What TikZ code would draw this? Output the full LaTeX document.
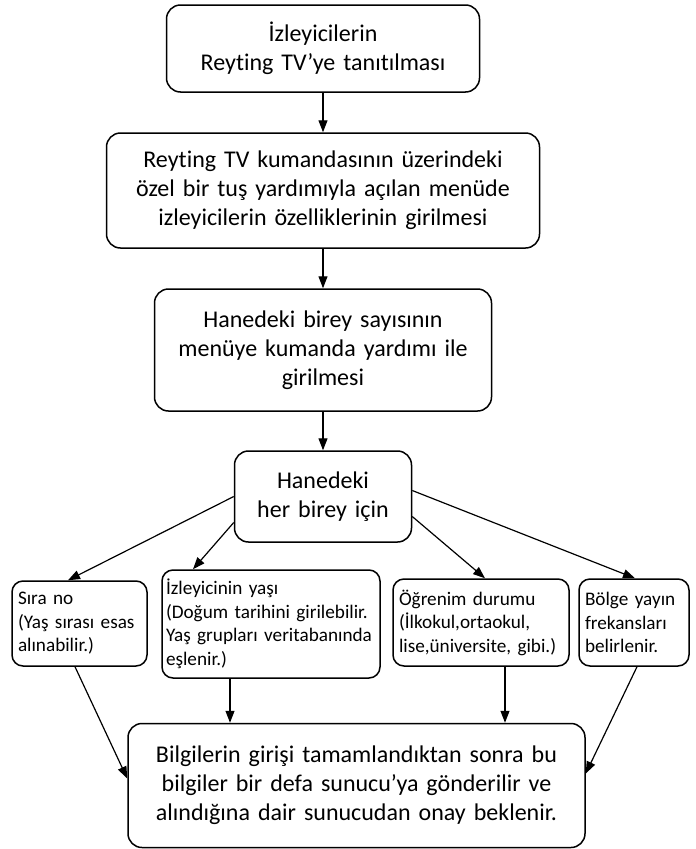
\documentclass[tikz,border=0pt]{standalone}
\usepackage{fontspec}
\setmainfont{Carlito}[RawFeature={-liga}]
\usetikzlibrary{arrows.meta}
\tikzset{
  bigbox/.style={draw, line width=1.5pt, rounded corners=14pt, inner xsep=0pt, inner ysep=0pt,
    align=center, font=\fontsize{24}{29}\selectfont},
  smallbox/.style={draw, line width=1.5pt, rounded corners=11pt, inner xsep=0pt, inner ysep=0pt,
    align=left, font=\fontsize{19.2}{23.5}\selectfont},
  arr/.style={line width=1.2pt, -{Triangle[length=12pt,width=9pt]}}
}
\begin{document}
\begin{tikzpicture}[x=1pt,y=-1pt]
\useasboundingbox (0,0) rectangle (696,849);
\node[bigbox, minimum width=313pt, minimum height=87pt, text width=300pt] (b1) at (323,48.5)
  {İzleyicilerin\\Reyting TV’ye tanıtılması};
\node[bigbox, minimum width=433pt, minimum height=115pt, text width=420pt] (b2) at (323,190.5)
  {Reyting TV kumandasının üzerindeki\\özel bir tuş yardımıyla açılan menüde\\izleyicilerin özelliklerinin girilmesi};
\node[bigbox, minimum width=337pt, minimum height=122pt, text width=320pt] (b3) at (323,350)
  {Hanedeki birey sayısının\\menüye kumanda yardımı ile\\girilmesi};
\node[bigbox, minimum width=177pt, minimum height=91pt, text width=165pt] (b4) at (323,496.5)
  {Hanedeki\\her birey için};
\node[smallbox, minimum width=135pt, minimum height=85pt, text width=123pt] (s1) at (79.5,623.5)
  {Sıra no\\\makebox[\linewidth][s]{(Yaş sırası esas}\\alınabilir.)};
\node[smallbox, minimum width=218pt, minimum height=108pt, text width=210pt] (s2) at (271,624)
  {İzleyicinin yaşı\\\makebox[\linewidth][s]{(Doğum tarihini girilebilir.}\\\makebox[\linewidth][s]{Yaş grupları veritabanında}\\eşlenir.)};
\node[smallbox, minimum width=176pt, minimum height=87pt, text width=164pt] (s3) at (481,622.5)
  {Öğrenim durumu\\(İlkokul,ortaokul,\\lise,üniversite, gibi.)};
\node[smallbox, minimum width=110pt, minimum height=87pt, text width=98pt] (s4) at (634,622.5)
  {Bölge yayın\\frekansları\\belirlenir.};
\node[bigbox, minimum width=457pt, minimum height=124pt, text width=440pt] (b5) at (356.5,785.5)
  {Bilgilerin girişi tamamlandıktan sonra bu\\bilgiler bir defa sunucu’ya gönderilir ve\\alındığına dair sunucudan onay beklenir.};
\draw[arr] (b1) -- (b2);
\draw[arr] (b2) -- (b3);
\draw[arr] (b3) -- (b4);
\draw[arr] (b4.west) -- ([xshift=-11.5pt]s1.north);
\draw[arr] ([yshift=-26pt]b4.west) -- ([xshift=-78pt]s2.north);
\draw[arr] ([yshift=-20pt]b4.east) -- ([xshift=4pt]s3.north);
\draw[arr] ([yshift=6pt]b4.east) -- ([xshift=1pt]s4.north);
\draw[arr] ([xshift=-4.5pt]s1.south) -- ([yshift=7pt]b5.west);
\draw[arr] ([xshift=-41pt]s2.south) -- ([xshift=-41pt]s2.south |- b5.north);
\draw[arr] ([xshift=24pt]s3.south) -- ([xshift=24pt]s3.south |- b5.north);
\draw[arr] ([xshift=3pt]s4.south) -- ([yshift=12pt]b5.east);
\end{tikzpicture}
\end{document}
